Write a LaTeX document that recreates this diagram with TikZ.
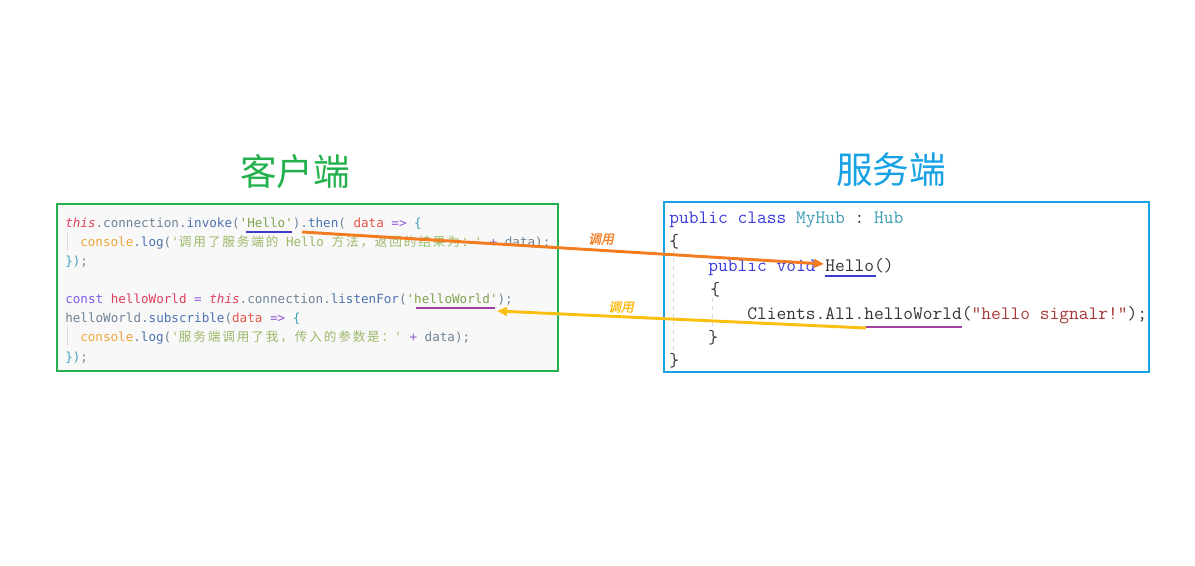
\documentclass[tikz,border=0pt]{standalone}
\usepackage{fontspec}
\usetikzlibrary{arrows.meta,fit}
\newfontfamily\lmono{DejaVu Sans Mono}
\newfontfamily\rmono{Latin Modern Mono}
\newfontfamily\cjk[LetterSpace=15]{Noto Sans CJK SC}
\newfontfamily\cjkt{Noto Sans CJK SC}
\newfontfamily\cjklab[FakeSlant=0.2,FakeBold=1.5]{Noto Sans CJK SC}
\definecolor{cgreen}{HTML}{22B14C}
\definecolor{sblue}{HTML}{18A2E6}
\definecolor{kwred}{HTML}{E0405E}
\definecolor{gry}{HTML}{6F8396}
\definecolor{fnblue}{HTML}{4B72B0}
\definecolor{strg}{HTML}{7FA34D}
\definecolor{lstr}{HTML}{9DB86A}
\definecolor{varred}{HTML}{E45649}
\definecolor{purp}{HTML}{9159D6}
\definecolor{tealc}{HTML}{3DA3B5}
\definecolor{orng}{HTML}{F0A53A}
\definecolor{constp}{HTML}{7E5BEF}
\definecolor{kwblue}{HTML}{3A3AE0}
\definecolor{tyteal}{HTML}{3D9DB3}
\definecolor{dark}{HTML}{333333}
\definecolor{strred}{HTML}{A83838}
\definecolor{ulblue}{HTML}{3B3BCC}
\definecolor{ulpurp}{HTML}{A040A0}
\definecolor{arrorange}{HTML}{F47C20}
\definecolor{arryellow}{HTML}{FBBF10}
\definecolor{guide}{HTML}{D8D8D8}
\begin{document}
\begin{tikzpicture}[x=0.75pt,y=-0.75pt,
  lcode/.style={anchor=base west,inner sep=0pt,font=\lmono\fontsize{9.45}{11}\selectfont},
  rcode/.style={anchor=base west,inner sep=0pt,font=\rmono\fontsize{14.2}{16}\selectfont},
  ttl/.style={inner sep=0pt,font=\cjkt\fontsize{27.5}{30}\selectfont},
  lab/.style={inner sep=0pt,font=\cjklab\fontsize{9.6}{11}\selectfont},
  uline/.style={line width=1.5pt},
  conn/.style={line width=2.2pt,-{Triangle[length=7.5pt,width=6.5pt]}},
  guideline/.style={draw=guide,line width=0.75pt}]
\useasboundingbox (0,0) rectangle (1195,566);
% titles
\node[ttl,text=cgreen] (ct) at (295,172) {客户端};
\node[ttl,text=sblue] (st) at (891,170) {服务端};
% boxes
\node[fit={(57,204) (558,371)},inner sep=0pt,draw=cgreen,fill={rgb,255:red,248;green,248;blue,248},line width=1.5pt] (cbox) {};
\node[fit={(664,202) (1149,372)},inner sep=0pt,draw=sblue,fill=white,line width=1.5pt] (sbox) {};
% left guides
\draw[guideline] (67,233) -- (67,251);
\draw[guideline] (67,327) -- (67,345);
% client code
\node[lcode] (l1) at (65,228) {\textcolor{kwred}{\itshape this}\textcolor{gry}{.connection.}\textcolor{fnblue}{invoke}\textcolor{gry}{(}\textcolor{strg}{'Hello'}\textcolor{gry}{).}\textcolor{fnblue}{then}\textcolor{gry}{(}\ \textcolor{varred}{data}\ \textcolor{purp}{=>}\ \textcolor{tealc}{\{}};
\node[lcode] (l2) at (80,247) {\textcolor{orng}{console}\textcolor{gry}{.}\textcolor{fnblue}{log}\textcolor{gry}{(}\textcolor{lstr}{'{\cjk 调用了服务端的}\ Hello\ {\cjk 方法，返回的结果为：}'}\ \textcolor{purp}{+}\ \textcolor{gry}{data);}};
\node[lcode] (l3) at (65,266) {\textcolor{tealc}{\})}\textcolor{gry}{;}};
\node[lcode] (l5) at (65,304) {\textcolor{constp}{const}\ \textcolor{kwred}{helloWorld}\ \textcolor{purp}{=}\ \textcolor{kwred}{\itshape this}\textcolor{gry}{.connection.}\textcolor{fnblue}{listenFor}\textcolor{gry}{(}\textcolor{strg}{'helloWorld'}\textcolor{gry}{);}};
\node[lcode] (l6) at (65,323) {\textcolor{gry}{helloWorld.}\textcolor{fnblue}{subscrible}\textcolor{gry}{(}\textcolor{varred}{data}\ \textcolor{purp}{=>}\ \textcolor{tealc}{\{}};
\node[lcode] (l7) at (80,342) {\textcolor{orng}{console}\textcolor{gry}{.}\textcolor{fnblue}{log}\textcolor{gry}{(}\textcolor{lstr}{'{\cjk 服务端调用了我，传入的参数是：}'}\ \textcolor{purp}{+}\ \textcolor{gry}{data);}};
\node[lcode] (l8) at (65,361) {\textcolor{tealc}{\})}\textcolor{gry}{;}};
% right guides
\draw[guideline,dashed] (673,250) -- (673,352);
\draw[guideline,dashed] (712,298) -- (712,330);
% server code
\node[rcode] (r1) at (669,224) {\textcolor{kwblue}{public class}\ \textcolor{tyteal}{MyHub}\ \textcolor{dark}{:}\ \textcolor{tyteal}{Hub}};
\node[rcode,text=dark] (r2) at (669,248) {\{};
\node[rcode] (r3) at (708,272) {\textcolor{kwblue}{public void}\ \textcolor{dark}{Hello()}};
\node[rcode,text=dark] (r4) at (710,296) {\{};
\node[rcode] (r5) at (747,320) {\textcolor{dark}{Clients.All.helloWorld(}\textcolor{strred}{"hello signalr!"}\textcolor{dark}{);}};
\node[rcode,text=dark] (r6) at (708,344) {\}};
\node[rcode,text=dark] (r7) at (669,367) {\}};
% underlines
\coordinate (u1a) at (246,232); \coordinate (u1b) at (292,232);
\coordinate (u2a) at (416,308); \coordinate (u2b) at (495,308);
\coordinate (u3a) at (825,276); \coordinate (u3b) at (876,276);
\coordinate (u4a) at (866,327); \coordinate (u4b) at (962,327);
\draw[uline,ulblue] (u1a) -- (u1b);
\draw[uline,ulpurp] (u2a) -- (u2b);
\draw[uline,ulblue] (u3a) -- (u3b);
\draw[uline,ulpurp] (u4a) -- (u4b);
% connectors
\coordinate (callS) at (302,232);
\coordinate (callE) at (824,264);
\coordinate (backS) at (866,328);
\coordinate (backE) at (497,311);
\draw[conn,arrorange] (callS) -- (callE);
\draw[conn,arryellow] (backS) -- (backE);
\node[lab,text=arrorange] (t1) at (601,239) {调用};
\node[lab,text=arryellow!90!orange] (t2) at (621,307) {调用};
\end{tikzpicture}
\end{document}
